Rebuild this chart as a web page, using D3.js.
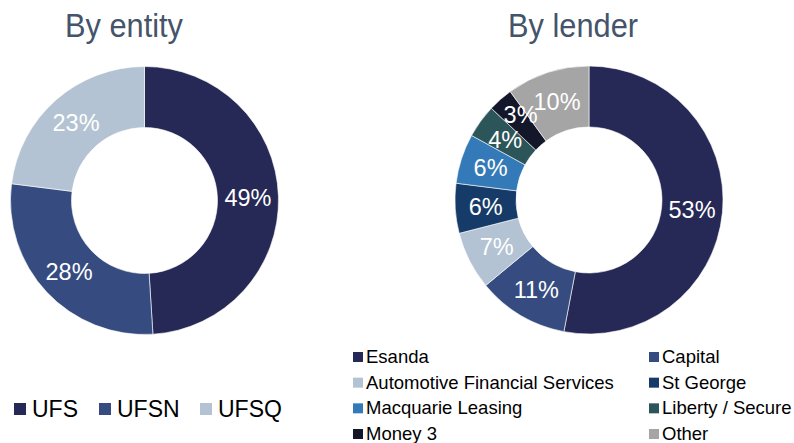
<!DOCTYPE html>
<html>
<head>
<meta charset="utf-8">
<script src="https://cdn.jsdelivr.net/npm/d3@7"></script>
<style>
  body { margin: 0; background: #fff; }
  text { font-family: "Liberation Sans", Arial, sans-serif; }
</style>
</head>
<body>
<div id="chart"></div>
<script>
// data
const entityNames = ["UFS", "UFSN", "UFSQ"];
const entityValues = [49, 28, 23];
const entityColors = ["#262855", "#364c80", "#b3c3d3"];

const lenderNames = ["Esanda", "Capital", "Automotive Financial Services", "St George",
  "Macquarie Leasing", "Liberty / Secure", "Money 3", "Other"];
const lenderValues = [53, 11, 7, 6, 6, 4, 3, 10];
const lenderColors = ["#262855", "#364c80", "#b3c3d3", "#163b68",
  "#347ab8", "#2c5559", "#141629", "#a5a5a5"];

const width = 794, height = 443;
const outerR = 134, innerR = 73;

const svg = d3.select("#chart")
  .append("svg")
  .attr("width", width)
  .attr("height", height);

const pie = d3.pie().sort(null).value((d) => d.value);
const arc = d3.arc().innerRadius(innerR).outerRadius(outerR);

const donut = (names, values, colors, cx, cy) => {
  const data = names.map((n, i) => ({ name: n, value: values[i], color: colors[i] }));
  const g = svg.append("g").attr("transform", `translate(${cx}, ${cy})`);

  g.selectAll("path")
    .data(pie(data))
    .join("path")
    .attr("d", arc)
    .attr("fill", (d) => d.data.color)
    .attr("stroke", "#fff")
    .attr("stroke-width", 0.6);

  // tiny slices get pushed up a bit so the labels don't pile up
  g.selectAll("text")
    .data(pie(data))
    .join("text")
    .attr("x", (d) => arc.centroid(d)[0])
    .attr("y", (d) => arc.centroid(d)[1] - (d.data.value <= 3 ? 8 : 0))
    .attr("dy", "0.36em")
    .attr("text-anchor", "middle")
    .attr("font-size", 23.5)
    .attr("fill", "#fff")
    .text((d) => d.data.value + "%");
};

donut(entityNames, entityValues, entityColors, 144.5, 200.5);
donut(lenderNames, lenderValues, lenderColors, 589, 200);

// titles
svg.append("text")
  .attr("x", 65).attr("y", 37)
  .attr("font-size", 33)
  .attr("textLength", 118)
  .attr("lengthAdjust", "spacingAndGlyphs")
  .attr("fill", "#44546a")
  .text("By entity");

svg.append("text")
  .attr("x", 508).attr("y", 37)
  .attr("font-size", 33)
  .attr("textLength", 130)
  .attr("lengthAdjust", "spacingAndGlyphs")
  .attr("fill", "#44546a")
  .text("By lender");

// left legend
const leftLegendX = [14, 99, 200];
const leftLegend = svg.append("g");
leftLegend.selectAll("rect")
  .data(entityNames)
  .join("rect")
  .attr("x", (d, i) => leftLegendX[i])
  .attr("y", 403)
  .attr("width", 12)
  .attr("height", 12)
  .attr("fill", (d, i) => entityColors[i]);
leftLegend.selectAll("text")
  .data(entityNames)
  .join("text")
  .attr("x", (d, i) => leftLegendX[i] + 18)
  .attr("y", 417)
  .attr("font-size", 23)
  .attr("fill", "#000")
  .text((d) => d);

// right legend, two columns
const colX = [353, 649];
const rowY = d3.scaleLinear().domain([0, 3]).range([363, 440]);
const rightLegend = svg.append("g");
rightLegend.selectAll("rect")
  .data(lenderNames)
  .join("rect")
  .attr("x", (d, i) => colX[i % 2])
  .attr("y", (d, i) => rowY(Math.floor(i / 2)) - 11)
  .attr("width", 10)
  .attr("height", 10)
  .attr("fill", (d, i) => lenderColors[i]);
rightLegend.selectAll("text")
  .data(lenderNames)
  .join("text")
  .attr("x", (d, i) => colX[i % 2] + 13)
  .attr("y", (d, i) => rowY(Math.floor(i / 2)))
  .attr("font-size", 18.5)
  .attr("fill", "#000")
  .text((d) => d);
</script>
</body>
</html>
